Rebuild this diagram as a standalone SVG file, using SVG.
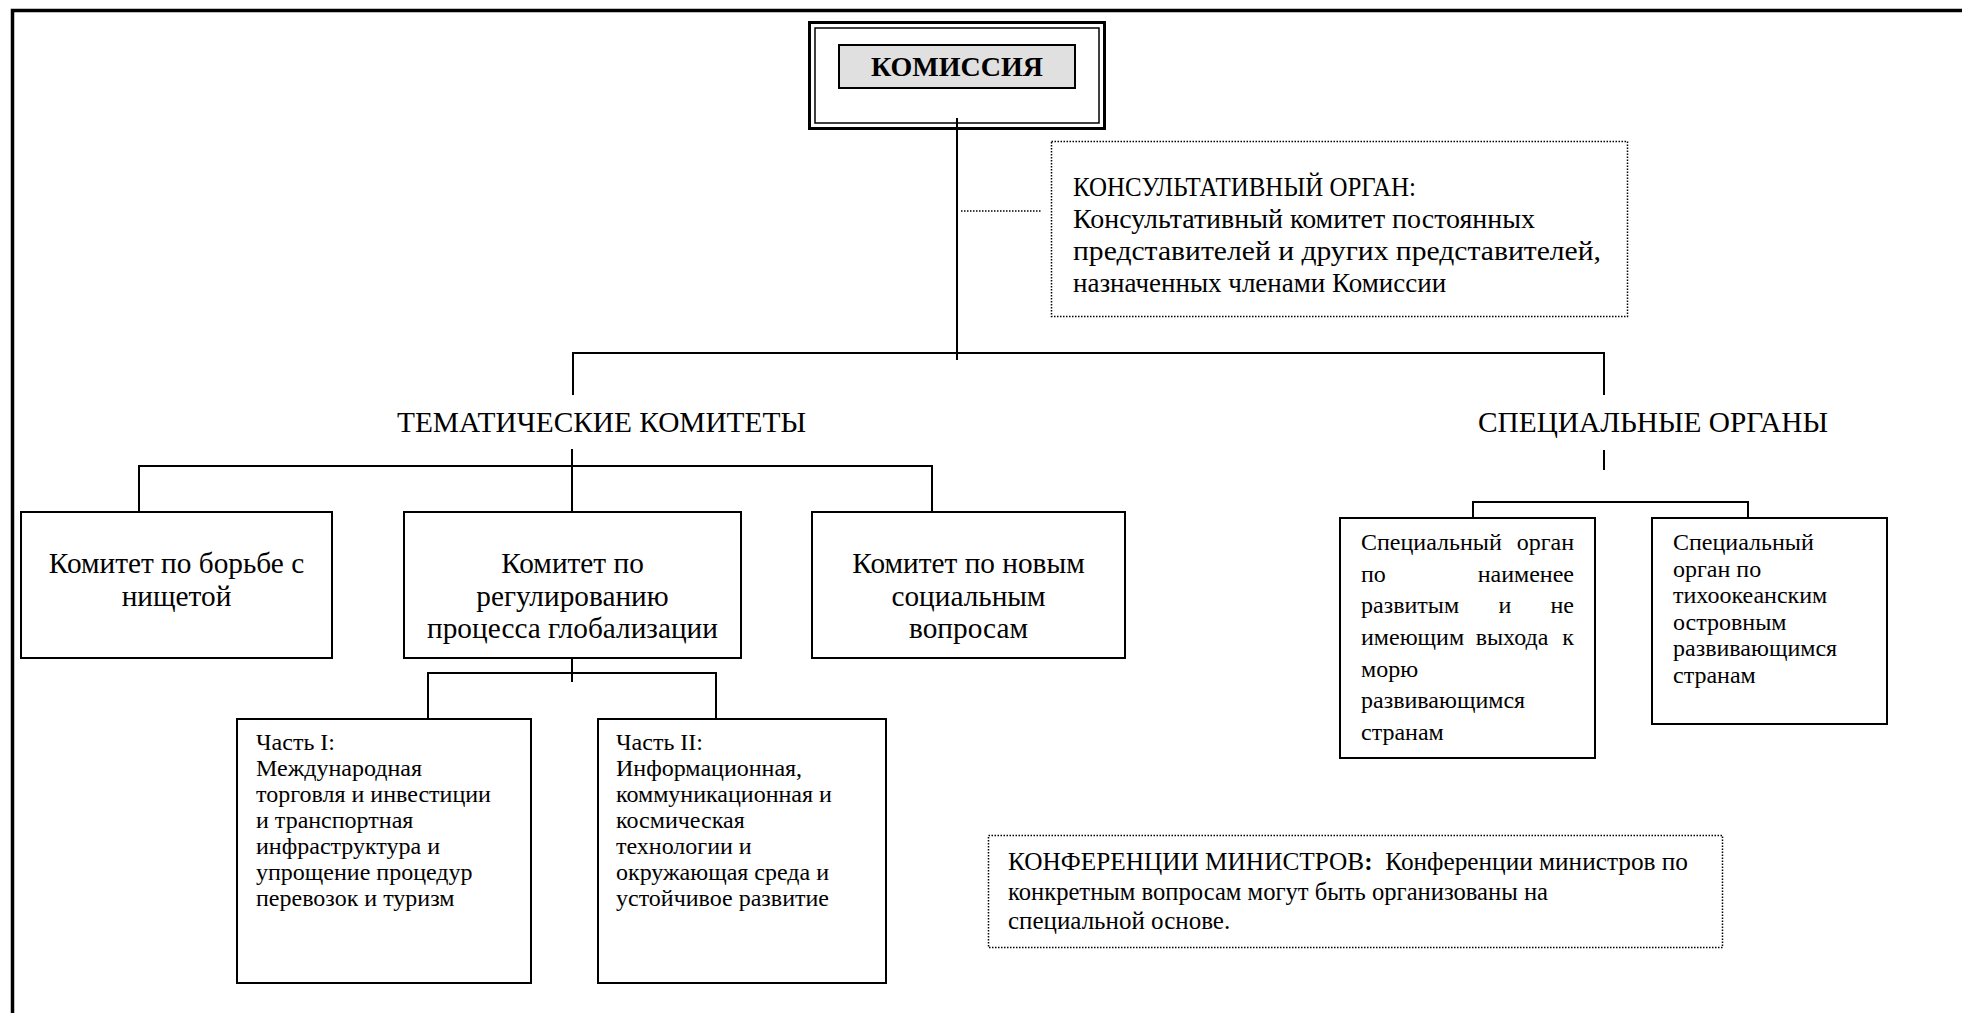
<svg xmlns="http://www.w3.org/2000/svg" width="1962" height="1013" viewBox="0 0 1962 1013">
<style>
  text { font-family: "Liberation Serif", "Times New Roman", serif; fill: #000; }
  .box { fill: #fff; stroke: #000; stroke-width: 2; }
  .dot { fill: #fff; stroke: #000; stroke-width: 1.5; stroke-dasharray: 1.5 1.5; }
  .ln { fill: none; stroke: #000; stroke-width: 2; }
  .t29 { font-size: 29.3px; }
  .t28 { font-size: 28px; }
  .t27 { font-size: 27px; }
  .t25 { font-size: 25px; }
  .t24 { font-size: 24px; }
  .c { text-anchor: middle; }
  .e { text-anchor: end; }
  .b { font-weight: bold; }
</style>
<rect width="1962" height="1013" fill="#fff"/>
<path d="M12.5,1013 V10.5 H1962" fill="none" stroke="#000" stroke-width="3.5"/>

<g id="connectors">
  <line class="ln" x1="957" y1="118" x2="957" y2="360"/>
  <line x1="961" y1="211" x2="1041" y2="211" stroke="#000" stroke-width="1.5" stroke-dasharray="1.5 1.5"/>
  <path class="ln" d="M573,395 V353 H1604 V395"/>
  <line class="ln" x1="572" y1="449" x2="572" y2="512"/>
  <path class="ln" d="M139,512 V466 H932 V512"/>
  <line class="ln" x1="572" y1="658" x2="572" y2="682"/>
  <path class="ln" d="M428,719 V673 H716 V719"/>
  <line class="ln" x1="1604" y1="450" x2="1604" y2="470"/>
  <path class="ln" d="M1473,518 V502 H1748 V518"/>
</g>

<g id="commission">
  <rect x="809.5" y="22.5" width="295" height="106" fill="#fff" stroke="#000" stroke-width="3"/>
  <rect x="815" y="28" width="284" height="95" fill="none" stroke="#000" stroke-width="1.5"/>
  <rect x="839" y="45" width="236" height="43" fill="#e0e0e0" stroke="#000" stroke-width="2"/>
  <text class="t28 b c" x="957" y="76">КОМИССИЯ</text>
</g>
<line x1="957" y1="118" x2="957" y2="135" stroke="#000" stroke-width="2"/>

<g id="advisory">
  <rect class="dot" x="1051.5" y="141.5" width="576" height="175"/>
  <text class="t27" x="1073" y="196" textLength="343" lengthAdjust="spacingAndGlyphs">КОНСУЛЬТАТИВНЫЙ ОРГАН:</text>
  <text class="t27" x="1073" y="228" textLength="462" lengthAdjust="spacingAndGlyphs">Консультативный комитет постоянных</text>
  <text class="t27" x="1073" y="260" textLength="528" lengthAdjust="spacingAndGlyphs">представителей и других представителей,</text>
  <text class="t27" x="1073" y="292">назначенных членами Комиссии</text>
</g>

<g id="thematic-label">
  <text class="t29 c" x="601.5" y="432" textLength="409" lengthAdjust="spacingAndGlyphs">ТЕМАТИЧЕСКИЕ КОМИТЕТЫ</text>
</g>
<g id="special-label">
  <text class="t29 c" x="1653" y="432" textLength="350" lengthAdjust="spacingAndGlyphs">СПЕЦИАЛЬНЫЕ ОРГАНЫ</text>
</g>

<g id="poverty">
  <rect class="box" x="21" y="512" width="311" height="146"/>
  <text class="t29 c" x="176.5" y="573">Комитет по борьбе с</text>
  <text class="t29 c" x="176.5" y="606">нищетой</text>
</g>
<g id="globalization">
  <rect class="box" x="404" y="512" width="337" height="146"/>
  <text class="t29 c" x="572.5" y="573">Комитет по</text>
  <text class="t29 c" x="572.5" y="606">регулированию</text>
  <text class="t29 c" x="572.5" y="638">процесса глобализации</text>
</g>
<g id="social">
  <rect class="box" x="812" y="512" width="313" height="146"/>
  <text class="t29 c" x="968.5" y="573">Комитет по новым</text>
  <text class="t29 c" x="968.5" y="606">социальным</text>
  <text class="t29 c" x="968.5" y="638">вопросам</text>
</g>

<g id="part1">
  <rect class="box" x="237" y="719" width="294" height="264"/>
  <text class="t24" x="256" y="750">Часть I:</text>
  <text class="t24" x="256" y="776">Международная</text>
  <text class="t24" x="256" y="802">торговля и инвестиции</text>
  <text class="t24" x="256" y="828">и транспортная</text>
  <text class="t24" x="256" y="854">инфраструктура и</text>
  <text class="t24" x="256" y="880">упрощение процедур</text>
  <text class="t24" x="256" y="906">перевозок и туризм</text>
</g>
<g id="part2">
  <rect class="box" x="598" y="719" width="288" height="264"/>
  <text class="t24" x="616" y="750">Часть II:</text>
  <text class="t24" x="616" y="776">Информационная,</text>
  <text class="t24" x="616" y="802">коммуникационная и</text>
  <text class="t24" x="616" y="828">космическая</text>
  <text class="t24" x="616" y="854">технологии и</text>
  <text class="t24" x="616" y="880">окружающая среда и</text>
  <text class="t24" x="616" y="906">устойчивое развитие</text>
</g>

<g id="ldc">
  <rect class="box" x="1340" y="518" width="255" height="240"/>
  <text class="t24" x="1361" y="550">Специальный</text>
  <text class="t24 e" x="1574" y="550">орган</text>
  <text class="t24" x="1361" y="582">по</text>
  <text class="t24 e" x="1574" y="582">наименее</text>
  <text class="t24" x="1361" y="613">развитым</text>
  <text class="t24 c" x="1505" y="613">и</text>
  <text class="t24 e" x="1574" y="613">не</text>
  <text class="t24" x="1361" y="645">имеющим</text>
  <text class="t24 c" x="1512" y="645">выхода</text>
  <text class="t24 e" x="1574" y="645">к</text>
  <text class="t24" x="1361" y="677">морю</text>
  <text class="t24" x="1361" y="708">развивающимся</text>
  <text class="t24" x="1361" y="740">странам</text>
</g>
<g id="pacific">
  <rect class="box" x="1652" y="518" width="235" height="206"/>
  <text class="t24" x="1673" y="550">Специальный</text>
  <text class="t24" x="1673" y="577">орган по</text>
  <text class="t24" x="1673" y="603">тихоокеанским</text>
  <text class="t24" x="1673" y="630">островным</text>
  <text class="t24" x="1673" y="656">развивающимся</text>
  <text class="t24" x="1673" y="683">странам</text>
</g>

<g id="ministers">
  <rect class="dot" x="988.5" y="835.5" width="734" height="112"/>
  <text class="t25" x="1008" y="870" xml:space="preserve" textLength="680" lengthAdjust="spacingAndGlyphs">КОНФЕРЕНЦИИ МИНИСТРОВ<tspan class="b">:</tspan>  Конференции министров по</text>
  <text class="t25" x="1008" y="900" textLength="540" lengthAdjust="spacingAndGlyphs">конкретным вопросам могут быть организованы на</text>
  <text class="t25" x="1008" y="929">специальной основе.</text>
</g>
</svg>
